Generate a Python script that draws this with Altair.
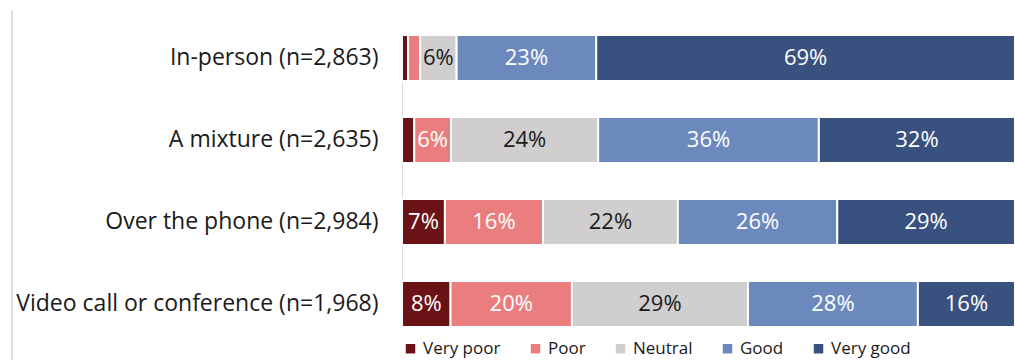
import altair as alt
import pandas as pd

channels = [
    "In-person (n=2,863)",
    "A mixture (n=2,635)",
    "Over the phone (n=2,984)",
    "Video call or conference (n=1,968)",
]
categories = ["Very poor", "Poor", "Neutral", "Good", "Very good"]
colors = ["#6B1216", "#EA7E7E", "#D0CECE", "#6C89BE", "#39517E"]
text_colors = ["white", "white", "#1a1a1a", "white", "white"]

very_poor = [1, 2, 7, 8]
poor = [2, 6, 16, 20]
neutral = [6, 24, 22, 29]
good = [23, 36, 26, 28]
very_good = [69, 32, 29, 16]
series = [very_poor, poor, neutral, good, very_good]

rows = []
for ci, ch in enumerate(channels):
    for k, cat in enumerate(categories):
        rows.append({
            "channel": ch,
            "category": cat,
            "order": k,
            "value": series[k][ci],
            "tcolor": text_colors[k],
        })
df = pd.DataFrame(rows)

FONT = "Open Sans"

base = alt.Chart(df).transform_stack(
    stack="value",
    groupby=["channel"],
    as_=["v0", "v1"],
    offset="normalize",
    sort=[alt.SortField("order", order="ascending")],
).transform_calculate(
    mid="(datum.v0 + datum.v1) / 2",
    label="datum.value + '%'",
)

yenc = alt.Y(
    "channel:N",
    sort=channels,
    title=None,
    scale=alt.Scale(paddingInner=0.438, paddingOuter=0),
    axis=alt.Axis(
        ticks=False,
        domain=False,
        labelFont=FONT,
        labelFontSize=23,
        labelColor="#1a1a1a",
        labelPadding=24,
        labelLimit=420,
    ),
)

bars = base.mark_bar(stroke="white", strokeWidth=2).encode(
    x=alt.X("v0:Q", scale=alt.Scale(domain=[0, 1], nice=False), axis=None),
    x2="v1:Q",
    y=yenc,
    color=alt.Color(
        "category:N",
        scale=alt.Scale(domain=categories, range=colors),
        legend=alt.Legend(
            title=None,
            orient="none",
            direction="horizontal",
            legendX=0,
            legendY=305,
            symbolType="square",
            symbolSize=90,
            symbolStrokeWidth=0,
            labelFont=FONT,
            labelFontSize=17,
            labelColor="#1a1a1a",
            columnPadding=26,
            labelOffset=4,
        ),
    ),
)

texts = base.transform_filter("datum.value >= 5").mark_text(
    font=FONT, fontSize=22, align="center", baseline="middle"
).encode(
    x=alt.X("mid:Q"),
    y=alt.Y("channel:N", sort=channels),
    text="label:N",
    color=alt.Color("tcolor:N", scale=None),
)

frame = alt.Chart(alt.Data(values=[{}])).mark_rule(color="#BFBFBF", strokeWidth=1).encode(
    x=alt.value(-390), y=alt.value(-25), y2=alt.value(325)
)

chart = alt.layer(bars, texts, frame).properties(
    width=613,
    height=292,
    autosize=alt.AutoSizeParams(type="none"),
    padding={"left": 402, "top": 35, "right": 0, "bottom": 33},
).configure_view(stroke=None).configure(background="white")

chart.save("out.html", embed_options={"renderer": "svg", "actions": False})
